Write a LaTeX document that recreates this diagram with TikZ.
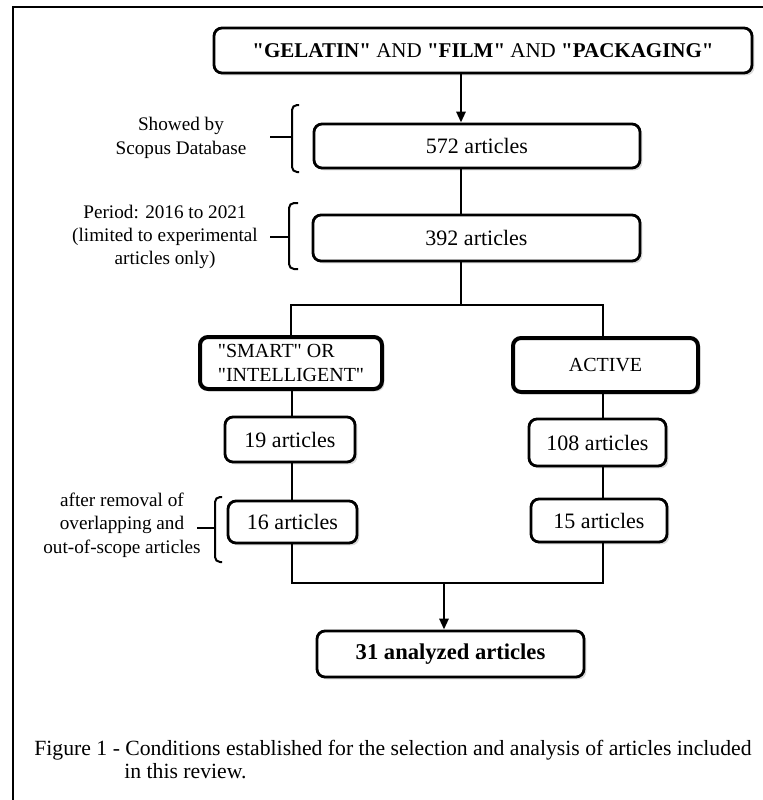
\documentclass[tikz,border=0pt]{standalone}
\usepackage{fontspec}
\setmainfont{Liberation Serif}
\usetikzlibrary{arrows.meta,shadows}

\begin{document}
\begin{tikzpicture}[x=0.5pt,y=-0.5pt,
    box/.style={draw,line width=1.4pt,rounded corners=4pt,fill=white,inner sep=0pt,
      drop shadow={shadow xshift=1.2pt,shadow yshift=-1.2pt,opacity=0.3},
      font=\fontsize{11}{13}\selectfont},
    branch/.style={box,line width=2pt,font=\fontsize{10}{12}\selectfont},
    link/.style={line width=1.4pt},
    tip/.style={link,-{Triangle[length=5.5pt,width=4.5pt]}},
    note/.style={align=center,font=\fontsize{9.6}{11.7}\selectfont},
    brace/.style={line width=1pt,rounded corners=2.5pt},
    capline/.style={anchor=west,inner sep=0pt,font=\fontsize{10.85}{12}\selectfont}]
  \useasboundingbox (0,0) rectangle (763,800);
  \draw[line width=0.6pt] (13,800) -- (13,7) -- (763,7);

  % search and first filters
  \node[box,minimum width=269pt,minimum height=22.5pt,font=\fontsize{10.5}{12}\selectfont] (query) at (483,50.5)
    {\textbf{\textquotedbl GELATIN\textquotedbl} AND \textbf{\textquotedbl FILM\textquotedbl} AND \textbf{\textquotedbl PACKAGING\textquotedbl}};
  \node[box,minimum width=163pt,minimum height=22pt] (scopus) at (477,146) {572 articles};
  \node[box,minimum width=163.5pt,minimum height=23pt] (period) at (476.5,238) {392 articles};

  % two branches
  \node[branch,minimum width=91pt,minimum height=26pt,align=left] (smart) at (291,363)
    {\textquotedbl SMART\textquotedbl{} OR\\\textquotedbl INTELLIGENT\textquotedbl};
  \node[branch,minimum width=92.5pt,minimum height=27pt] (active) at (605.5,365) {ACTIVE};
  \node[box,minimum width=65pt,minimum height=22.5pt] (smartall) at (290,439.5) {19 articles};
  \node[box,minimum width=68.5pt,minimum height=23.5pt] (activeall) at (597.5,442.5) {108 articles};
  \node[box,minimum width=64.5pt,minimum height=21pt] (smartsel) at (292.5,522) {16 articles};
  \node[box,minimum width=68pt,minimum height=21.5pt] (activesel) at (599,520.5) {15 articles};
  \node[box,minimum width=133.5pt,minimum height=23pt,font=\fontsize{11.3}{13}\selectfont\bfseries] (result) at (450.5,654)
    {31 analyzed articles};

  % connectors
  \coordinate (spine) at (461,0);
  \coordinate (split) at (461,305);
  \coordinate (leftcol) at (292,0);
  \coordinate (rightcol) at (603,0);
  \coordinate (merge) at (444,583);
  \draw[tip] (query.south -| spine) -- (scopus.north -| spine);
  \draw[link] (scopus.south -| spine) -- (period.north -| spine);
  \draw[link] (period.south -| spine) -- (split);
  \draw[link] (smart.north) -- (smart.north |- split) -- (rightcol |- split) -- (active.north -| rightcol);
  \draw[link] (smart.south -| leftcol) -- (smartall.north -| leftcol);
  \draw[link] (smartall.south -| leftcol) -- (smartsel.north -| leftcol);
  \draw[link] (active.south -| rightcol) -- (activeall.north -| rightcol);
  \draw[link] (activeall.south -| rightcol) -- (activesel.north -| rightcol);
  \draw[link] (smartsel.south -| leftcol) -- (leftcol |- merge) -- (rightcol |- merge) -- (activesel.south -| rightcol);
  \draw[tip] (merge) -- (result.north -| merge);

  % side notes with brackets
  \node[note] (scopusnote) at (181,138) {Showed by\\Scopus Database};
  \draw[brace] (299,105) -- (292,105) -- (292,172) -- (299,172);
  \draw[brace] (270,137) -- (292,137);
  \node[note] (periodnote) at (165,237) {Period: 2016 to 2021\\(limited to experimental\\articles only)};
  \draw[brace] (298,203) -- (289,203) -- (289,269) -- (298,269);
  \draw[brace] (270,237) -- (289,237);
  \node[note] (overlapnote) at (122,525) {after removal of\\overlapping and\\out-of-scope articles};
  \draw[brace] (222,497) -- (215,497) -- (215,562) -- (222,562);
  \draw[brace] (197,528) -- (215,528);

  % caption
  \node[capline] (caption) at (34,750) {Figure 1 - Conditions established for the selection and analysis of articles included};
  \node[capline] (captionend) at (124,771) {in this review.};
\end{tikzpicture}
\end{document}
